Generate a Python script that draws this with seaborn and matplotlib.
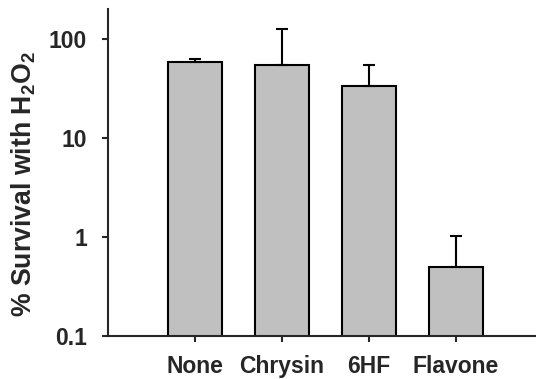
import matplotlib
matplotlib.use("Agg")
import matplotlib.pyplot as plt
import numpy as np
import pandas as pd
import seaborn as sns

# date
tratamente = ["None", "Chrysin", "6HF", "Flavone"]
supravietuire = [58.0, 54.5, 33.5, 0.50]
eroare_sus = [4.0, 70.0, 21.0, 0.52]
etichete_y = ["0.1", "1", "10", "100"]
valori_y = [0.1, 1, 10, 100]

sns.set_style("ticks")
plt.rcParams["font.family"] = ["Liberation Sans", "DejaVu Sans"]
plt.rcParams["font.weight"] = "bold"
plt.rcParams["mathtext.fontset"] = "custom"
plt.rcParams["mathtext.bf"] = "Liberation Sans:bold"
plt.rcParams["mathtext.rm"] = "Liberation Sans:bold"

t = pd.DataFrame({"tratament": tratamente, "supr": supravietuire})

fig = plt.figure(figsize=(5.36, 3.79), dpi=100)
ax = fig.add_axes([108 / 536, 43 / 379, 428 / 536, 327 / 379])
ax.set_yscale("log")
sns.barplot(t, x="tratament", y="supr", color="#c0c0c0", saturation=1,
            edgecolor="black", linewidth=1.5, width=0.61, ax=ax)
ax.errorbar(np.arange(len(tratamente)), supravietuire,
            yerr=[np.zeros(len(eroare_sus)), eroare_sus],
            fmt="none", ecolor="black", elinewidth=1.5, capsize=4.5,
            capthick=1.5, zorder=1)

ax.set_ylim(0.1, 200)
ax.set_xlim(-1.0, 3.92)
ax.set_yticks(valori_y)
ax.set_yticklabels(etichete_y)
ax.minorticks_off()
ax.tick_params(axis="both", length=4, width=1.5, labelsize=16.5)
ax.tick_params(axis="y", pad=11)
ax.tick_params(axis="x", pad=10)
for lbl in ax.get_xticklabels() + ax.get_yticklabels():
    lbl.set_fontweight("bold")
ax.set_xlabel("")
ax.set_ylabel(r"% Survival with H$_\mathbf{2}$O$_\mathbf{2}$", fontsize=19.2,
              fontweight="bold")
ax.yaxis.set_label_coords(-0.164, 0.466)
sns.despine(ax=ax)
for s in ["left", "bottom"]:
    ax.spines[s].set_linewidth(1.5)

plt.savefig("out.png", dpi=100)
